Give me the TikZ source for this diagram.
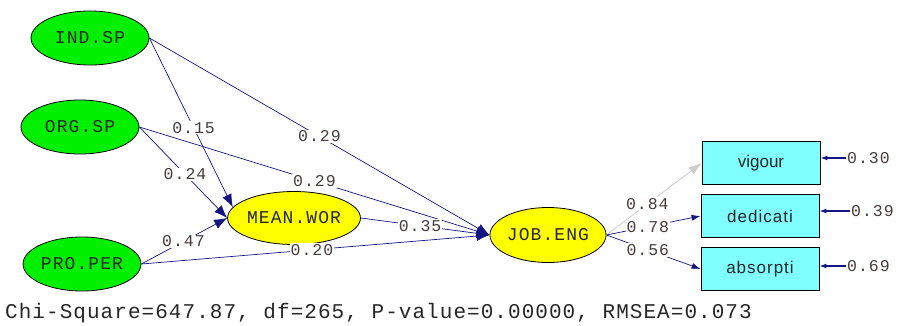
\documentclass[tikz,border=0pt]{standalone}
\usepackage{fontspec}
\setmainfont{Liberation Sans}
\newfontfamily\monof[LetterSpace=6]{Liberation Mono}
\newfontfamily\monofit[LetterSpace=5]{Liberation Mono}
\usetikzlibrary{arrows.meta,shapes.geometric}
\definecolor{navy}{RGB}{20,20,130}
\definecolor{labgray}{RGB}{70,60,60}
\definecolor{lgreen}{RGB}{0,240,0}
\definecolor{lyellow}{RGB}{255,255,0}
\definecolor{lcyan}{RGB}{128,255,255}
\begin{document}
\begin{tikzpicture}[x=1pt,y=-1pt,
  exo/.style={ellipse, draw=black, line width=0.8pt, fill=lgreen, minimum width=118pt, minimum height=54pt, inner sep=0pt, font=\monof\fontsize{18}{20}\selectfont, text=black!85},
  endo/.style={exo, fill=lyellow},
  obs/.style={rectangle, draw=black, line width=0.8pt, fill=lcyan, minimum width=118pt, minimum height=43pt, inner sep=0pt, font=\fontsize{17}{19}\selectfont, text=black!85},
  lab/.style={fill=white, inner sep=1pt, font=\monof\fontsize{16.5}{18}\selectfont, text=labgray},
  elab/.style={inner sep=1pt, font=\monof\fontsize{16.5}{18}\selectfont, text=labgray, anchor=west},
  path/.style={draw=navy, line width=0.7pt, -{Latex[length=13pt,width=10pt]}},
  spath/.style={draw=navy, line width=0.7pt, -{Latex[length=9pt,width=6pt]}},
  gpath/.style={draw=black!20, line width=0.8pt, -{Latex[length=13pt,width=9pt]}},
  err/.style={draw=navy, line width=1.2pt, -{Latex[length=7pt,width=5pt]}}
]
\useasboundingbox (0,0) rectangle (903,325);

\node[exo] (ind) at (90,38) {IND.SP};
\node[exo] (org) at (80,127) {ORG.SP};
\node[exo] (pro) at (82,264) {PRO.PER};
\node[endo, minimum width=116pt, minimum height=53pt] (mean) at (294,218) {MEAN.WOR};
\node[endo, minimum width=116pt, minimum height=55pt] (job) at (548,235) {JOB.ENG};
\node[obs] (vig) at (761,163) {vigour};
\node[obs] (ded) at (760,216) {d\kern1pt e\kern1pt d\kern1pt i\kern1pt c\kern1pt a\kern1pt t\kern1pt i};
\node[obs] (abs) at (760,269) {a\kern1pt b\kern1pt s\kern1pt o\kern1pt r\kern1pt p\kern1pt t\kern1pt i};

\draw[path] (ind.east) -- node[lab,pos=.53]{0.15} (mean.170);
\draw[path] (ind.east) -- node[lab,pos=.5]{0.29} (job.west);
\draw[path] (org.east) -- node[lab,pos=.52]{0.24} (mean.west);
\draw[path] (org.east) -- node[lab,pos=.5]{0.29} (job.west);
\draw[path] (pro.east) -- node[lab,pos=.49]{0.47} (mean.west);
\draw[path] (pro.east) -- node[lab,pos=.49]{0.20} (job.west);
\draw[path] (mean.east) -- node[lab,pos=.46]{0.35} (job.west);

\draw[gpath] (job.east) -- node[lab,pos=.43]{0.84} (vig.west);
\draw[spath] (job.east) -- node[lab,pos=.44]{0.78} (ded.west);
\draw[spath] (job.east) -- node[lab,pos=.44]{0.56} (abs.west);

\coordinate (e1) at (846,158);
\coordinate (e2) at (850,211);
\coordinate (e3) at (846,266);
\draw[err] (e1) -- (vig.east |- e1);
\draw[err] (e2) -- (ded.east |- e2);
\draw[err] (e3) -- (abs.east |- e3);
\node[elab] (l1) at (e1) {0.30};
\node[elab] (l2) at (e2) {0.39};
\node[elab] (l3) at (e3) {0.69};

\node[anchor=west, inner sep=0pt, font=\monofit\fontsize{21}{23}\selectfont, text=black!85] (fit) at (5,313) {Chi-Square=647.87, df=265, P-value=0.00000, RMSEA=0.073};
\end{tikzpicture}
\end{document}
